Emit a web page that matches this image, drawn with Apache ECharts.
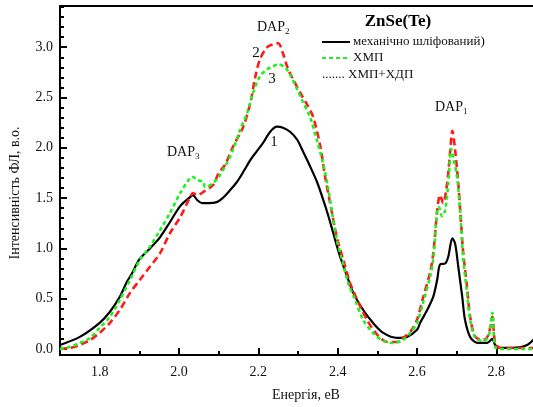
<!DOCTYPE html>
<html><head><meta charset="utf-8">
<script src="https://cdn.jsdelivr.net/npm/echarts@6/dist/echarts.min.js"></script>
<style>html,body{margin:0;padding:0;background:#fff}#c{width:533px;height:407px}</style>
</head><body><div id="c"></div>
<script>
// Energy (eV) and PL intensity (a.u.)
const blackE = [1.70,1.75,1.80,1.826,1.851,1.869,1.88,1.90,1.927,1.952,1.977,2.003,2.028,2.035,2.046,2.058,2.075,2.095,2.11,2.129,2.146,2.165,2.18,2.195,2.212,2.23,2.247,2.262,2.28,2.298,2.313,2.33,2.348,2.363,2.376,2.389,2.406,2.424,2.439,2.464,2.489,2.515,2.55,2.575,2.60,2.608,2.626,2.641,2.651,2.658,2.671,2.679,2.689,2.696,2.704,2.714,2.721,2.734,2.752,2.777,2.79,2.797,2.81,2.843,2.878,2.90];
const blackI = [0.04,0.12,0.26,0.37,0.52,0.67,0.74,0.89,1.00,1.11,1.26,1.42,1.51,1.53,1.48,1.45,1.45,1.46,1.50,1.58,1.66,1.78,1.88,1.96,2.05,2.16,2.21,2.20,2.16,2.08,1.96,1.82,1.66,1.49,1.33,1.15,0.92,0.72,0.56,0.39,0.26,0.16,0.11,0.12,0.19,0.26,0.39,0.52,0.69,0.84,0.85,0.92,1.10,1.05,0.82,0.52,0.29,0.12,0.06,0.06,0.10,0.04,0.01,0.01,0.04,0.12];
const redE = [1.70,1.725,1.75,1.776,1.80,1.826,1.851,1.877,1.902,1.927,1.952,1.977,2.003,2.028,2.035,2.046,2.061,2.086,2.10,2.116,2.136,2.162,2.18,2.192,2.204,2.222,2.237,2.25,2.262,2.275,2.288,2.305,2.323,2.338,2.356,2.368,2.381,2.398,2.414,2.431,2.449,2.474,2.50,2.525,2.55,2.565,2.583,2.60,2.616,2.633,2.641,2.651,2.658,2.666,2.676,2.684,2.689,2.696,2.704,2.709,2.716,2.726,2.734,2.747,2.767,2.78,2.79,2.797,2.81,2.90];
const redI = [0.00,0.01,0.04,0.09,0.16,0.26,0.39,0.56,0.69,0.82,0.95,1.15,1.31,1.51,1.55,1.53,1.56,1.63,1.75,1.83,2.01,2.21,2.45,2.70,2.88,3.00,3.03,3.04,2.94,2.78,2.68,2.55,2.43,2.31,2.02,1.72,1.45,1.11,0.89,0.66,0.49,0.29,0.14,0.07,0.07,0.11,0.17,0.29,0.52,0.76,0.95,1.38,1.53,1.45,1.65,1.98,2.17,1.98,1.65,1.38,0.98,0.62,0.32,0.12,0.09,0.14,0.32,0.06,0.01,0.01];
const greenE = [1.70,1.725,1.75,1.776,1.80,1.826,1.851,1.877,1.902,1.927,1.952,1.977,2.003,2.028,2.035,2.046,2.061,2.066,2.086,2.10,2.121,2.136,2.154,2.172,2.187,2.204,2.222,2.237,2.25,2.267,2.28,2.298,2.313,2.33,2.348,2.363,2.376,2.386,2.398,2.411,2.426,2.444,2.464,2.489,2.515,2.54,2.565,2.583,2.60,2.616,2.633,2.641,2.651,2.655,2.663,2.671,2.679,2.686,2.691,2.701,2.709,2.716,2.726,2.734,2.747,2.767,2.78,2.79,2.797,2.81,2.90];
const greenI = [0.00,0.02,0.06,0.11,0.21,0.32,0.49,0.69,0.89,1.02,1.18,1.35,1.55,1.70,1.71,1.68,1.66,1.61,1.65,1.71,1.85,1.98,2.18,2.35,2.55,2.71,2.78,2.81,2.83,2.80,2.73,2.58,2.45,2.31,2.07,1.85,1.60,1.35,1.08,0.89,0.66,0.49,0.29,0.16,0.08,0.06,0.09,0.16,0.26,0.47,0.72,0.89,1.38,1.41,1.32,1.38,1.65,1.99,1.91,1.71,1.35,0.92,0.56,0.29,0.11,0.08,0.12,0.36,0.02,0.00,0.00];

const xMajor = [1.8,2.0,2.2,2.4,2.6,2.8];
const xMinor = [1.9,2.1,2.3,2.5,2.7];
const yMajor = [0.0,0.5,1.0,1.5,2.0,2.5,3.0];
const yMinor = [0.1,0.2,0.3,0.4,0.6,0.7,0.8,0.9,1.1,1.2,1.3,1.4,1.6,1.7,1.8,1.9,2.1,2.2,2.3,2.4,2.6,2.7,2.8,2.9,3.1,3.2,3.3,3.4];

const seriesNames = ['механічно шліфований)','ХМП','ХМП+ХДП'];
const X_MIN = 1.7, X_MAX = 2.9, Y_MIN = -0.06, Y_MAX = 3.41;
const F = 'Liberation Serif';
const zip = (a,b) => a.map((v,i)=>[v,b[i]]);

const chart = echarts.init(document.getElementById('c'));
const sub = (t, s) => ({text:'{a|' + t + '}{s|' + s + '}', rich:{a:{font:'14px "Liberation Serif"', fill:'#111'}, s:{font:'9px "Liberation Serif"', fill:'#111', padding:[10,0,0,0]}}, verticalAlign:'middle'});
const tickLine = {color:'#000', width:2};
chart.setOption({
  animation:false,
  grid:{left:60, top:6, right:-3, bottom:52, outerBoundsMode:'none', containLabel:false, show:true, borderColor:'#000', borderWidth:2},
  xAxis:[
    {type:'value', min:X_MIN, max:X_MAX, position:'bottom', splitLine:{show:false},
      axisLine:{onZero:false, lineStyle:{color:'#000', width:2}},
      axisTick:{show:true, inside:true, length:7, customValues:xMajor, lineStyle:tickLine},
      axisLabel:{customValues:xMajor, formatter:v=>v.toFixed(1), color:'#111', fontFamily:F, fontSize:14, margin:10}},
    {type:'value', min:X_MIN, max:X_MAX, position:'bottom', splitLine:{show:false},
      axisLine:{show:false, onZero:false},
      axisTick:{show:true, inside:true, length:4, customValues:xMinor, lineStyle:tickLine},
      axisLabel:{show:false}}
  ],
  yAxis:[
    {type:'value', min:Y_MIN, max:Y_MAX, position:'left', splitLine:{show:false},
      axisLine:{show:true, onZero:false, lineStyle:{color:'#000', width:2}},
      axisTick:{show:true, inside:true, length:7, customValues:yMajor, lineStyle:tickLine},
      axisLabel:{customValues:yMajor, formatter:v=>v.toFixed(1), color:'#111', fontFamily:F, fontSize:14, margin:7}},
    {type:'value', min:Y_MIN, max:Y_MAX, position:'left', splitLine:{show:false},
      axisLine:{show:false, onZero:false},
      axisTick:{show:true, inside:true, length:4, customValues:yMinor, lineStyle:tickLine},
      axisLabel:{show:false}}
  ],
  series:[
    {name:seriesNames[0], type:'line', showSymbol:false, symbol:'none', smooth:0.3, data:zip(blackE,blackI),
      lineStyle:{color:'#000', width:2.2}, z:2},
    {name:seriesNames[2], type:'line', showSymbol:false, symbol:'none', smooth:0.3, data:zip(redE,redI),
      lineStyle:{color:'#ff1a1a', width:2.6, type:[7,4]}, z:3},
    {name:seriesNames[1], type:'line', showSymbol:false, symbol:'none', smooth:0.3, data:zip(greenE,greenI),
      lineStyle:{color:'#22ee22', width:2.6, type:[4,3]}, z:4}
  ],
  graphic:[
    {type:'text', x:15, y:193, rotation:Math.PI/2, style:{text:'Інтенсивність ФЛ, в.о.', font:'14px "Liberation Serif"', fill:'#111', align:'center', verticalAlign:'middle'}},
    {type:'text', x:306, y:395, style:{text:'Енергія, еВ', font:'14px "Liberation Serif"', fill:'#111', align:'center', verticalAlign:'middle'}},
    {type:'text', x:398, y:22, style:{text:'ZnSe(Te)', font:'bold 17px "Liberation Serif"', fill:'#000', align:'center', verticalAlign:'middle'}},
    {type:'line', shape:{x1:322, y1:42, x2:350, y2:42}, style:{stroke:'#000', lineWidth:2}},
    {type:'text', x:353, y:42, style:{text:seriesNames[0], font:'13px "Liberation Serif"', fill:'#111', verticalAlign:'middle'}},
    {type:'line', shape:{x1:322, y1:58, x2:350, y2:58}, style:{stroke:'#22ee22', lineWidth:2, lineDash:[4,3]}},
    {type:'text', x:353, y:58, style:{text:seriesNames[1], font:'13px "Liberation Serif"', fill:'#111', verticalAlign:'middle'}},
    {type:'text', x:322, y:75, style:{text:'....... ' + seriesNames[2], font:'13px "Liberation Serif"', fill:'#111', verticalAlign:'middle'}},
    {type:'text', x:257, y:27, style:sub('DAP','2')},
    {type:'text', x:167, y:152, style:sub('DAP','3')},
    {type:'text', x:435, y:107, style:sub('DAP','1')},
    {type:'text', x:256, y:53, style:{text:'2', font:'15px "Liberation Serif"', fill:'#111', align:'center', verticalAlign:'middle'}},
    {type:'text', x:272, y:79, style:{text:'3', font:'15px "Liberation Serif"', fill:'#111', align:'center', verticalAlign:'middle'}},
    {type:'text', x:274, y:142, style:{text:'1', font:'15px "Liberation Serif"', fill:'#111', align:'center', verticalAlign:'middle'}}
  ]
});
</script></body></html>
